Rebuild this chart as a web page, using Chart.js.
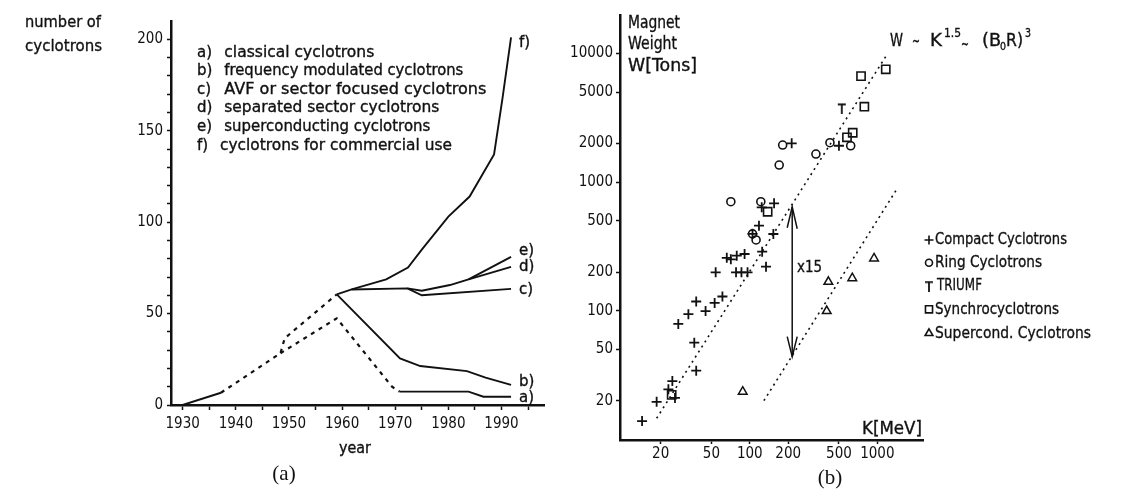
<!DOCTYPE html>
<html>
<head>
<meta charset="utf-8">
<script src="https://cdn.jsdelivr.net/npm/chart.js@4.4.1/dist/chart.umd.min.js"></script>
<style>
  html, body { margin: 0; padding: 0; background: #fff; }
  #wrap { position: relative; width: 1129px; height: 504px; overflow: hidden; }
  .panel { position: absolute; top: 0; }
</style>
</head>
<body>
<div id="wrap">
  <div class="panel" style="left:0;width:560px;height:504px"><canvas id="ca" width="560" height="504"></canvas></div>
  <div class="panel" style="left:560px;width:569px;height:504px"><canvas id="cb" width="569" height="504"></canvas></div>
</div>
<script>
// ---- (a) number of cyclotrons vs year ----
var earlyYears = [1930, 1937.2];
var earlyCount = [0, 6.7];
var dashTotalYears = [1937.2, 1948.4, 1949.2, 1959];
var dashTotalCount = [6.7, 28.3, 36.5, 60.5];
var dashClassYears = [1948.4, 1959, 1969.4, 1970.8];
var dashClassCount = [28.3, 47.4, 10, 7.3];
var aYears = [1970.8, 1983.8, 1986.6, 1991.8];
var aCount = [7.3, 7.3, 4.5, 4.5];
var bYears = [1959, 1970.9, 1974.7, 1983.5, 1987, 1991.8];
var bCount = [60.5, 25.5, 21.3, 18.5, 15, 11];
var cYears = [1959, 1961.8, 1972.3, 1975, 1991.8];
var cCount = [60.5, 63.2, 63.8, 60, 63.5];
var dYears = [1972.3, 1975, 1980.3, 1983.8, 1991.8];
var dCount = [63.8, 62.5, 65.6, 68.7, 75.5];
var eYears = [1983.8, 1991.8];
var eCount = [68.7, 81];
var fYears = [1961.8, 1968.3, 1972.4, 1975, 1980, 1984, 1988.6, 1990.2, 1991.8];
var fCount = [63.2, 68.7, 75.2, 85, 103, 114, 137, 168, 201];

var seriesKeys = ['a)', 'b)', 'c)', 'd)', 'e)', 'f)'];
var seriesNames = ['classical cyclotrons', 'frequency modulated cyclotrons',
  'AVF or sector focused cyclotrons', 'separated sector cyclotrons',
  'superconducting cyclotrons', 'cyclotrons for commercial use'];
var yearTicks = [1930, 1940, 1950, 1960, 1970, 1980, 1990];
var countTicks = [0, 50, 100, 150, 200];

// ---- (b) magnet weight vs K ----
var compactK = [213, 500, 155, 124, 118, 153, 105, 125, 134, 66, 71, 79, 91, 54, 78, 86, 96,
  61, 53, 45, 38, 33, 27.5, 36.7, 38, 24.7, 23, 25.9, 18.6, 14.3];
var compactW = [2000, 1915, 684, 636, 458, 395, 396, 288, 220, 258, 251, 268, 276, 199, 199, 199, 199,
  129, 115, 99.5, 118, 94, 79, 56.5, 34.2, 28.4, 24.5, 21, 19.6, 13.9];
var ringK = [71, 122, 105, 112, 170, 181, 330, 425, 618];
var ringW = [704, 704, 396, 355, 1356, 1940, 1651, 2022, 1915];
var triumfK = [526];
var triumfW = [3740];
var synchroK = [745, 1164, 791, 641, 578, 138, 24.4];
var synchroW = [6650, 7520, 3850, 2417, 2227, 588, 22.2];
var supercondK = [88, 413, 401, 636, 942];
var supercondW = [23.5, 168, 99.5, 179, 255];
var upperFitK = [18.6, 1184];
var upperFitW = [14.6, 9710];
var lowerFitK = [129, 1445];
var lowerFitW = [20, 904];
var arrowK = [215, 215];
var arrowW = [643, 44];
var kTicks = [20, 50, 100, 200, 500, 1000];
var wTicks = [20, 50, 100, 200, 500, 1000, 2000, 5000, 10000];
var legendNames = ['Compact Cyclotrons', 'Ring Cyclotrons', 'TRIUMF', 'Synchrocyclotrons', 'Supercond. Cyclotrons'];

var INK = '#111';
var FONT = "'DejaVu Sans', sans-serif";
var COND = "'DejaVu Sans Condensed', 'DejaVu Sans', sans-serif";

function pts(xs, ys) {
  return xs.map(function(x, i) { return { x: x, y: ys[i] }; });
}

// text squeezed/stretched to the width it has in the picture, lightly stroked like the plotter font
function txt(ctx, s, x, y, o) {
  o = o || {};
  var stroke = o.bold === undefined ? 0.35 : o.bold;
  ctx.save();
  ctx.font = (o.size || 15) + 'px ' + (o.family || FONT);
  ctx.fillStyle = INK;
  ctx.strokeStyle = INK;
  ctx.textBaseline = 'middle';
  ctx.textAlign = 'left';
  var m = ctx.measureText(s).width;
  var sx = o.w ? o.w / m : 1;
  var w = m * sx;
  var x0 = o.align === 'center' ? x - w / 2 : (o.align === 'right' ? x - w : x);
  ctx.translate(x0, y);
  ctx.scale(sx, 1);
  ctx.fillText(s, 0, 0);
  if (stroke > 0) {
    ctx.lineWidth = stroke;
    ctx.strokeText(s, 0, 0);
  }
  ctx.restore();
}

function makeT() {
  var c = document.createElement('canvas');
  c.width = 10; c.height = 11;
  var g = c.getContext('2d');
  g.strokeStyle = INK;
  g.lineWidth = 1.8;
  g.beginPath();
  g.moveTo(1, 1.5); g.lineTo(9, 1.5);
  g.moveTo(5, 1.5); g.lineTo(5, 11);
  g.stroke();
  return c;
}
var tMark = makeT();

function solid(xs, ys) {
  return { data: pts(xs, ys), showLine: true, borderColor: INK, borderWidth: 1.9,
    pointRadius: 0, tension: 0, fill: false };
}
function dashed(xs, ys) {
  var d = solid(xs, ys);
  d.borderDash = [4, 5];
  d.borderWidth = 2.2;
  return d;
}

// ---------- panel (a) ----------
var panelA = {
  id: 'panelA',
  afterDraw: function(chart) {
    var ctx = chart.ctx;
    txt(ctx, 'number of', 25, 22.7, { size: 16, w: 76 });
    txt(ctx, 'cyclotrons', 25, 46.7, { size: 16, w: 77 });
    var widths = [150, 239, 262, 215, 206, 232];
    var rows = [53.3, 71, 90, 108.3, 127.3, 146];
    for (var i = 0; i < seriesKeys.length; i++) {
      txt(ctx, seriesKeys[i], 197, rows[i], { size: 15 });
      txt(ctx, seriesNames[i], i === 5 ? 220 : 224.3, rows[i], { size: 15, w: widths[i] });
    }
    var endY = [398, 382, 290, 267, 251, 43];
    for (var j = 0; j < seriesKeys.length; j++) {
      txt(ctx, seriesKeys[j], 519, endY[j], { size: 15 });
    }
    txt(ctx, 'year', 355, 449, { size: 15, align: 'center', w: 32 });
    txt(ctx, '(a)', 284, 474, { size: 21, align: 'center', bold: 0, family: "'Liberation Serif', serif" });
  }
};

new Chart(document.getElementById('ca'), {
  type: 'scatter',
  data: {
    datasets: [
      solid(earlyYears, earlyCount),
      dashed(dashTotalYears, dashTotalCount),
      dashed(dashClassYears, dashClassCount),
      solid(aYears, aCount),
      solid(bYears, bCount),
      solid(cYears, cCount),
      solid(dYears, dCount),
      solid(eYears, eCount),
      solid(fYears, fCount)
    ]
  },
  options: {
    responsive: false,
    animation: false,
    devicePixelRatio: 1,
    layout: { padding: { left: 0, right: 16, top: 21, bottom: 0 } },
    plugins: { legend: { display: false }, tooltip: { enabled: false } },
    scales: {
      x: {
        type: 'linear', min: 1927.8, max: 1998,
        afterBuildTicks: function(s) {
          var t = [];
          for (var v = 1930; v <= 1995; v += 5) t.push({ value: v });
          s.ticks = t;
        },
        afterFit: function(s) { s.height = 99; },
        ticks: {
          autoSkip: false, maxRotation: 0, color: INK, padding: 5,
          font: { family: COND, size: 15 },
          callback: function(v) { return yearTicks.indexOf(v) >= 0 ? String(v) : ''; }
        },
        grid: { drawOnChartArea: false, tickLength: 5, tickColor: INK, tickWidth: 1.5 },
        border: { color: INK, width: 2.5 }
      },
      y: {
        type: 'linear', min: 0, max: 210,
        afterBuildTicks: function(s) {
          var t = [];
          for (var v = 0; v <= 200; v += 10) t.push({ value: v });
          s.ticks = t;
        },
        afterFit: function(s) { s.width = 171; },
        ticks: {
          autoSkip: false, color: INK, padding: 4,
          font: { family: COND, size: 15 },
          callback: function(v) { return countTicks.indexOf(v) >= 0 ? String(v) : ''; }
        },
        grid: { drawOnChartArea: false, tickLength: 4, tickColor: INK, tickWidth: 1.5 },
        border: { color: INK, width: 2.5 }
      }
    }
  },
  plugins: [panelA]
});

// ---------- panel (b) ----------
var symStyles = ['cross', 'circle', tMark, 'rect', 'triangle'];
var symRadius = [4.5, 3.5, 4, 5, 4.5];

var panelB = {
  id: 'panelB',
  afterDraw: function(chart) {
    var ctx = chart.ctx;
    var ox = 560;
    txt(ctx, 'Magnet', 628 - ox, 23.3, { size: 17, w: 52 });
    txt(ctx, 'Weight', 628 - ox, 44.3, { size: 17, w: 49 });
    txt(ctx, 'W[Tons]', 628 - ox, 66.7, { size: 17, w: 69 });

    // W ~ K^1.5 ~ (B0R)^3
    txt(ctx, 'W', 890 - ox, 42, { size: 17, w: 13 });
    txt(ctx, '~', 912 - ox, 43, { size: 17, w: 8 });
    txt(ctx, 'K', 930 - ox, 42, { size: 17, w: 12 });
    txt(ctx, '1.5', 944 - ox, 34, { size: 12, w: 17 });
    txt(ctx, '~', 961 - ox, 45, { size: 16, w: 8 });
    txt(ctx, '(B', 982 - ox, 42, { size: 17, w: 19 });
    txt(ctx, '0', 1000 - ox, 47, { size: 11, w: 6 });
    txt(ctx, 'R)', 1006 - ox, 42, { size: 17, w: 17 });
    txt(ctx, '3', 1025 - ox, 34, { size: 12, w: 6 });

    txt(ctx, 'x15', 797 - ox, 268, { size: 16, w: 25 });
    txt(ctx, 'K[MeV]', 862 - ox, 430, { size: 17, w: 60 });

    // arrow heads of the x15 double arrow
    var xs = chart.scales.x, ys = chart.scales.y;
    var ax = xs.getPixelForValue(arrowK[0]);
    var top = ys.getPixelForValue(arrowW[0]);
    var bot = ys.getPixelForValue(arrowW[1]);
    ctx.save();
    ctx.strokeStyle = INK;
    ctx.lineWidth = 1.5;
    ctx.beginPath();
    ctx.moveTo(ax - 5, top + 21); ctx.lineTo(ax, top); ctx.lineTo(ax + 5, top + 22);
    ctx.moveTo(ax - 5, bot - 20); ctx.lineTo(ax, bot); ctx.lineTo(ax + 5, bot - 20);
    ctx.stroke();
    ctx.restore();

    // legend
    var rows = [240, 262.7, 286, 309.3, 333.3];
    var widths = [132, 107, 45, 124, 156];
    for (var i = 0; i < legendNames.length; i++) {
      ctx.save();
      ctx.strokeStyle = INK;
      ctx.fillStyle = 'rgba(0,0,0,0)';
      ctx.lineWidth = 1.6;
      Chart.helpers.drawPoint(ctx, { pointStyle: symStyles[i], radius: symRadius[i], rotation: 0, borderWidth: 1.6 },
        929 - ox, rows[i]);
      ctx.restore();
      txt(ctx, legendNames[i], (i === 2 ? 937 : 935) - ox, rows[i], { size: 16.5, w: widths[i] });
    }
    txt(ctx, '(b)', 830 - ox, 478, { size: 21, align: 'center', bold: 0, family: "'Liberation Serif', serif" });
  }
};

function marks(xs, ys, style, r, bw) {
  return { data: pts(xs, ys), showLine: false, pointStyle: style, pointRadius: r,
    pointBorderWidth: bw, pointBorderColor: INK, pointBackgroundColor: 'rgba(0,0,0,0)' };
}
function dots(xs, ys) {
  return { data: pts(xs, ys), showLine: true, borderColor: INK, borderWidth: 1.6,
    borderDash: [2, 4], pointRadius: 0, tension: 0 };
}

new Chart(document.getElementById('cb'), {
  type: 'scatter',
  data: {
    datasets: [
      dots(upperFitK, upperFitW),
      dots(lowerFitK, lowerFitW),
      { data: pts(arrowK, arrowW), showLine: true, borderColor: INK, borderWidth: 1.5, pointRadius: 0 },
      marks(compactK, compactW, 'cross', 5, 1.8),
      marks(ringK, ringW, 'circle', 4, 1.6),
      marks(triumfK, triumfW, tMark, 5, 1.6),
      marks(synchroK, synchroW, 'rect', 5.8, 1.6),
      marks(supercondK, supercondW, 'triangle', 5, 1.5)
    ]
  },
  options: {
    responsive: false,
    animation: false,
    devicePixelRatio: 1,
    layout: { padding: { left: 0, right: 206, top: 15, bottom: 0 } },
    plugins: { legend: { display: false }, tooltip: { enabled: false } },
    scales: {
      x: {
        type: 'logarithmic', min: 9.6, max: 2280,
        afterBuildTicks: function(s) { s.ticks = kTicks.map(function(v) { return { value: v }; }); },
        afterFit: function(s) { s.height = 64; },
        ticks: {
          autoSkip: false, maxRotation: 0, color: INK, padding: 1,
          font: { family: COND, size: 15 },
          callback: function(v) { return String(v); }
        },
        grid: { drawOnChartArea: false, tickLength: 4, tickColor: INK, tickWidth: 1.5 },
        border: { color: INK, width: 2.5 }
      },
      y: {
        type: 'logarithmic', min: 9.9, max: 19870,
        afterBuildTicks: function(s) { s.ticks = wTicks.map(function(v) { return { value: v }; }); },
        afterFit: function(s) { s.width = 60; },
        ticks: {
          autoSkip: false, color: INK, padding: 3,
          font: { family: COND, size: 15 },
          callback: function(v) { return String(v); }
        },
        grid: { drawOnChartArea: false, tickLength: 4, tickColor: INK, tickWidth: 1.5 },
        border: { color: INK, width: 2.5 }
      }
    }
  },
  plugins: [panelB]
});
</script>
</body>
</html>
